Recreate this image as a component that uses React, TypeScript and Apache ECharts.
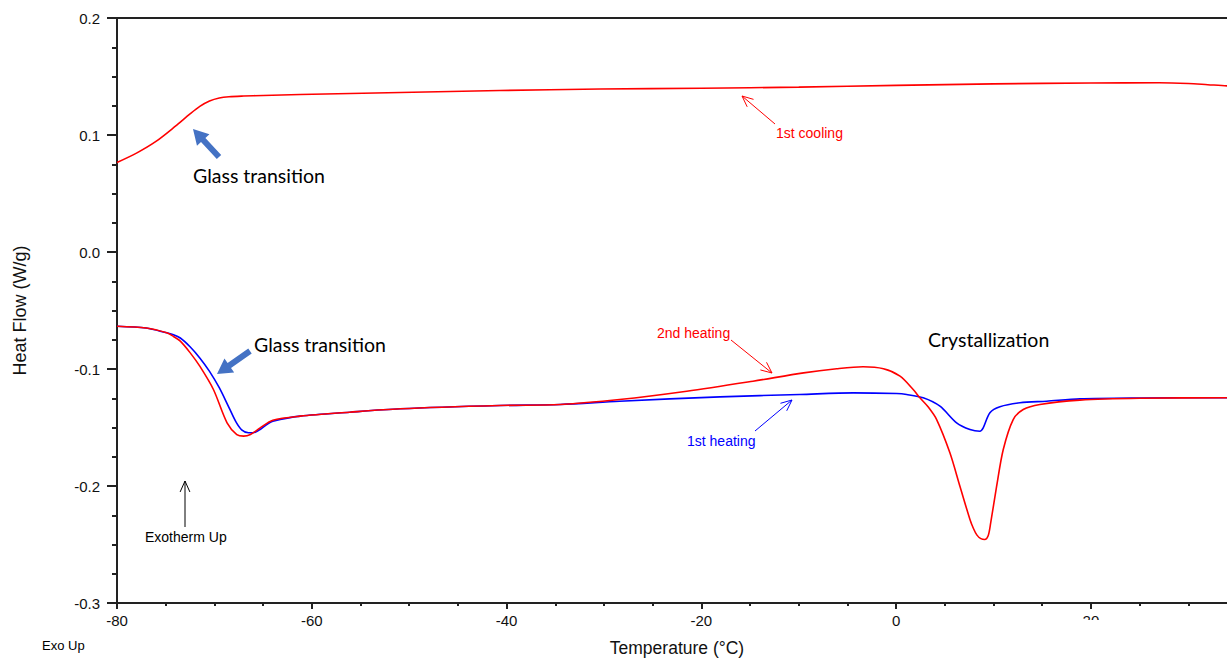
import React, { useEffect, useRef } from "react";
import * as echarts from "echarts";

// Temperature (°C) and heat flow (W/g) for each run
const coolingTemp = [-80, -78, -76, -74, -72.5, -71.5, -70.5, -69.5, -68.5, -67, -65, -61.2, -50.9, -40.7, -30.4, -20, -10, 0, 10, 20, 27, 30, 32, 34, 35];
const coolingFlow = [0.0765, 0.0845, 0.0945, 0.1075, 0.118, 0.1244, 0.129, 0.1316, 0.1327, 0.1333, 0.1338, 0.1346, 0.1363, 0.138, 0.1393, 0.14, 0.1409, 0.1424, 0.1437, 0.1445, 0.1446, 0.144, 0.143, 0.142, 0.1412];

const heat2Temp = [-80, -77, -74.9, -74.2, -73.5, -72.5, -71.5, -70.1, -68.7, -67.7, -67.0, -66.3, -65.3, -64.0, -61.2, -56.1, -50.9, -40.7, -34.5, -28.4, -21.5, -14.7, -9.5, -6.1, -3.4, -1.3, 0.4, 1.75, 2.44, 3.3, 4.16, 5.52, 6.55, 7.58, 7.95, 8.3, 8.7, 9.1, 9.45, 9.7, 10.32, 11.0, 12.02, 13.05, 14.76, 18.87, 25, 35];
const heat2Flow = [-0.0634, -0.065, -0.0691, -0.0722, -0.0762, -0.086, -0.0976, -0.1175, -0.146, -0.156, -0.1574, -0.156, -0.1503, -0.1438, -0.1403, -0.1369, -0.134, -0.1312, -0.1303, -0.1261, -0.119, -0.1104, -0.1033, -0.0998, -0.0981, -0.0998, -0.1061, -0.1175, -0.1246, -0.1325, -0.1432, -0.1716, -0.2002, -0.2286, -0.2365, -0.242, -0.245, -0.2457, -0.2425, -0.232, -0.2002, -0.1688, -0.1432, -0.1346, -0.1303, -0.1266, -0.125, -0.1245];

const heat1Temp = [-80, -77, -74.9, -74.2, -73.5, -72.5, -71.5, -70.5, -69.5, -68.5, -67.8, -67.2, -66.5, -65.8, -65.3, -64.5, -64.0, -61.2, -56.1, -50.9, -40.7, -34.5, -28.4, -18.1, -9.9, -4.4, 0.05, 1.08, 2.78, 4.5, 6.21, 7.58, 8.6, 8.94, 9.63, 10.66, 12.71, 15.45, 18.87, 25, 35];
const heat1Flow = [-0.0634, -0.065, -0.0691, -0.0707, -0.0735, -0.081, -0.0905, -0.102, -0.116, -0.133, -0.145, -0.152, -0.1545, -0.154, -0.1517, -0.1468, -0.1446, -0.1403, -0.1369, -0.134, -0.1312, -0.1303, -0.1275, -0.1238, -0.1218, -0.1204, -0.121, -0.1218, -0.1246, -0.1318, -0.146, -0.1517, -0.1532, -0.1503, -0.1374, -0.1323, -0.1289, -0.1275, -0.1255, -0.1248, -0.1245];

const pairs = (xs: number[], ys: number[]) => xs.map((x, i) => [x, ys[i]]);

const AXIS = "#222";
const RED = "#ff0000";
const BLUE = "#0000ff";
const NOTE_BLUE = "#4472c4";
const SANS = "Liberation Sans, Arial, sans-serif";
const NOTE_FONT = "Lato, sans-serif";

// Filled block arrow from tail to tip
function blockArrow(tip: number[], tail: number[], color: string) {
  const dx = tip[0] - tail[0];
  const dy = tip[1] - tail[1];
  const len = Math.hypot(dx, dy);
  const ux = dx / len, uy = dy / len;
  const nx = -uy, ny = ux;
  const headLen = 15, headHalf = 8.5, shaftHalf = 3;
  const bx = tip[0] - ux * headLen, by = tip[1] - uy * headLen;
  return {
    type: "polygon",
    z: 100,
    shape: {
      points: [
        tip,
        [bx + nx * headHalf, by + ny * headHalf],
        [bx + nx * shaftHalf, by + ny * shaftHalf],
        [tail[0] + nx * shaftHalf, tail[1] + ny * shaftHalf],
        [tail[0] - nx * shaftHalf, tail[1] - ny * shaftHalf],
        [bx - nx * shaftHalf, by - ny * shaftHalf],
        [bx - nx * headHalf, by - ny * headHalf],
      ],
    },
    style: { fill: color },
  };
}

// Thin line arrow with an open head
function lineArrow(tip: number[], tail: number[], color: string) {
  const dx = tail[0] - tip[0];
  const dy = tail[1] - tip[1];
  const len = Math.hypot(dx, dy);
  const ux = dx / len, uy = dy / len;
  const a = (24 * Math.PI) / 180;
  const h = 12;
  const rot = (s: number) => [
    tip[0] + h * (ux * Math.cos(s * a) - uy * Math.sin(s * a)),
    tip[1] + h * (ux * Math.sin(s * a) + uy * Math.cos(s * a)),
  ];
  return [
    { type: "line", z: 100, shape: { x1: tail[0], y1: tail[1], x2: tip[0], y2: tip[1] }, style: { stroke: color, lineWidth: 1 } },
    { type: "polyline", z: 100, shape: { points: [rot(1), tip, rot(-1)] }, style: { stroke: color, lineWidth: 1, fill: null } },
  ];
}

function note(text: string, x: number, y: number, color: string, size: number, family: string) {
  return {
    type: "text",
    z: 100,
    x,
    y,
    style: { text, fill: color, fontSize: size, fontFamily: family, align: "left", verticalAlign: "middle" },
  };
}

export default function App() {
  const ref = useRef<HTMLDivElement>(null);

  useEffect(() => {
    if (!ref.current) return;
    const chart = echarts.init(ref.current, null, { renderer: "svg" });
    chart.setOption({
      animation: false,
      backgroundColor: "#fff",
      grid: {
        left: 117,
        right: 0,
        top: 18,
        bottom: 55,
        outerBoundsMode: "none",
        containLabel: false,
        show: true,
        borderColor: AXIS,
        borderWidth: 2,
      },
      xAxis: {
        type: "value",
        min: -80,
        max: 35,
        interval: 20,
        name: "Temperature (°C)",
        nameLocation: "middle",
        nameGap: 36,
        nameTextStyle: { fontFamily: SANS, fontSize: 17.5, color: "#111" },
        axisLine: { show: true, onZero: false, lineStyle: { color: AXIS, width: 2 } },
        axisTick: { show: true, length: 6, lineStyle: { color: AXIS, width: 2 } },
        minorTick: { show: true, splitNumber: 4, length: 3, lineStyle: { color: AXIS, width: 2 } },
        axisLabel: { fontFamily: SANS, fontSize: 15, color: "#111", margin: 10, showMaxLabel: false },
        splitLine: { show: false },
      },
      yAxis: {
        type: "value",
        min: -0.3,
        max: 0.2,
        interval: 0.1,
        name: "Heat Flow (W/g)",
        nameLocation: "middle",
        nameGap: 88,
        nameTextStyle: { fontFamily: SANS, fontSize: 18, color: "#111" },
        axisLine: { show: true, onZero: false, lineStyle: { color: AXIS, width: 2 } },
        axisTick: { show: true, length: 10, lineStyle: { color: AXIS, width: 2 } },
        minorTick: { show: true, splitNumber: 4, length: 5, lineStyle: { color: AXIS, width: 2 } },
        axisLabel: {
          fontFamily: SANS,
          fontSize: 15,
          color: "#111",
          margin: 17,
          formatter: (v: number) => (Math.abs(v) < 1e-9 ? "0.0" : v.toFixed(1)),
        },
        splitLine: { show: false },
      },
      series: [
        {
          name: "1st cooling",
          type: "line",
          data: pairs(coolingTemp, coolingFlow),
          showSymbol: false,
          smooth: 0.3,
          lineStyle: { color: RED, width: 1.6 },
        },
        {
          name: "1st heating",
          type: "line",
          data: pairs(heat1Temp, heat1Flow),
          showSymbol: false,
          smooth: 0.3,
          lineStyle: { color: BLUE, width: 1.6 },
        },
        {
          name: "2nd heating",
          type: "line",
          data: pairs(heat2Temp, heat2Flow),
          showSymbol: false,
          smooth: 0.3,
          lineStyle: { color: RED, width: 1.6 },
        },
      ],
      graphic: [
        // hides the lower part of the "20" tick label
        { type: "rect", z: 100, shape: { x: 1076, y: 620, width: 30, height: 16 }, style: { fill: "#fff" } },
        blockArrow([193, 129], [219, 157], NOTE_BLUE),
        blockArrow([217, 374], [250, 351], NOTE_BLUE),
        note("Glass transition", 193, 175, "#000", 19.5, NOTE_FONT),
        note("Glass transition", 254, 344, "#000", 19.5, NOTE_FONT),
        note("Crystallization", 928, 339, "#000", 19.5, NOTE_FONT),
        ...lineArrow([742, 96], [775, 124], RED),
        note("1st cooling", 776, 133, RED, 14, SANS),
        ...lineArrow([772, 373], [731, 340], RED),
        note("2nd heating", 657, 333, RED, 14, SANS),
        ...lineArrow([792, 400], [755, 431], BLUE),
        note("1st heating", 687, 441, BLUE, 14, SANS),
        ...lineArrow([185, 481], [185, 527], "#000"),
        note("Exotherm Up", 145, 537, "#000", 14, SANS),
        note("Exo Up", 42, 645, "#000", 13, SANS),
      ],
    });
    return () => chart.dispose();
  }, []);

  return (
    <div style={{ position: "fixed", left: 0, top: 0, width: 1227, height: 658, overflow: "hidden", background: "#fff" }}>
      <div ref={ref} style={{ width: 1237, height: 658 }} />
    </div>
  );
}
